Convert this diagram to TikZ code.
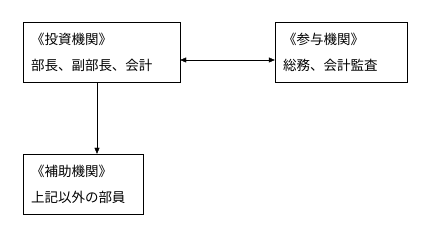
\documentclass[tikz,border=0pt]{standalone}
\usepackage{fontspec}
\setmainfont{Noto Sans CJK JP}
\usetikzlibrary{arrows.meta,positioning,calc}

\begin{document}
\begin{tikzpicture}[x=1pt,y=-1pt,>={Triangle[length=6pt,width=5pt]},
    organ/.style={draw,thin,rectangle,minimum height=60pt,inner xsep=8pt,
      align=left,font=\fontsize{13.5}{26}\selectfont}]
  \useasboundingbox (0,0) rectangle (424,229);
  \node[organ,text width=141pt] (toushi) at (101.5,52) {《投資機関》\\部長、副部長、会計};
  \node[organ,text width=116pt] (sanyo) at (341,52) {《参与機関》\\総務、会計監査};
  \node[organ,text width=104pt] (hojo) at (83,184) {《補助機関》\\上記以外の部員};
  \draw[thin,<->] ([yshift=-8pt]toushi.east) -- ([yshift=-8pt]sanyo.west);
  \draw[thin,->] ([xshift=-4.5pt]toushi.south) -- ([xshift=-4.5pt]toushi.south |- hojo.north);
\end{tikzpicture}
\end{document}
